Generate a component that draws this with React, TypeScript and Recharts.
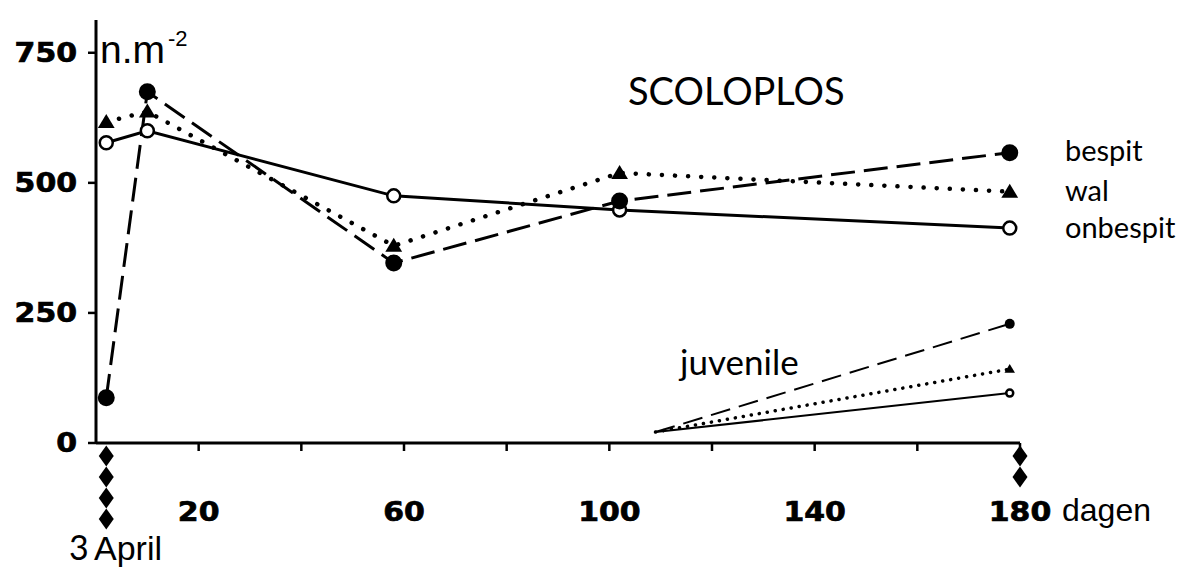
import React from 'react';
import { LineChart, Line, XAxis, YAxis, ReferenceDot } from 'recharts';

// sampling days and densities (n per m2)
const days = [2, 10, 58, 102, 178];
const bespit = [87, 675, 346, 465, 558];
const wal = [617, 637, 379, 519, 483];
const onbespit = [577, 600, 475, 448, 413];

// juvenile counts
const juvDays = [109, 178];
const juvBespit = [21, 229];
const juvWal = [21, 142];
const juvOnbespit = [21, 96];

const xTicks = [20, 40, 60, 80, 100, 120, 140, 160, 180];
const xLabels = [20, 60, 100, 140, 180];
const yTicks = [0, 250, 500, 750];

// days marked with diamonds under the axis
const markDays = [2, 180];
const markCounts = [4, 2];

const rows = (xs: number[], ys: number[]) => xs.map((d, i) => ({ day: d, n: ys[i] }));

const filledDot = (r: number, skipFirst = false) => (p: any) =>
  skipFirst && p.index === 0 ? <g key={p.index} /> : <circle key={p.index} cx={p.cx} cy={p.cy} r={r} fill="#000" />;

const openDot = (r: number, skipFirst = false) => (p: any) =>
  skipFirst && p.index === 0 ? (
    <g key={p.index} />
  ) : (
    <circle key={p.index} cx={p.cx} cy={p.cy} r={r} fill="#fff" stroke="#000" strokeWidth={2.5} />
  );

const triDot = (s: number, skipFirst = false) => (p: any) =>
  skipFirst && p.index === 0 ? (
    <g key={p.index} />
  ) : (
    <path
      key={p.index}
      d={`M${p.cx},${p.cy - s} L${p.cx + s * 1.05},${p.cy + s * 0.75} L${p.cx - s * 1.05},${p.cy + s * 0.75} Z`}
      fill="#000"
    />
  );

const diamonds = (count: number) => (p: any) => (
  <g>
    {Array.from({ length: count }, (_, i) => {
      const y = p.cy + 13 + i * 21;
      return <path key={i} d={`M${p.cx},${y - 10.5} L${p.cx + 7.5},${y} L${p.cx},${y + 10.5} L${p.cx - 7.5},${y} Z`} fill="#000" />;
    })}
  </g>
);

const numStyle = { fontFamily: 'DejaVu Sans', fontSize: 26, fontWeight: 700, fill: '#000', stroke: '#000', strokeWidth: 0.7 };

// wide bold digits, like the original lettering
const YTick = ({ x, y, payload }: any) => (
  <text x={x} y={y} dy="0.36em" textAnchor="end" transform={`translate(${x},0) scale(1.15,1) translate(${-x},0)`} {...numStyle}>
    {payload.value}
  </text>
);

const XTick = ({ x, y, payload }: any) =>
  xLabels.includes(payload.value) ? (
    <text x={x} y={y} dy={18.5} textAnchor="middle" transform={`translate(${x},0) scale(1.15,1) translate(${-x},0)`} {...numStyle}>
      {payload.value}
    </text>
  ) : (
    <g />
  );

const txtFont = 'Lato';

export default function App() {
  return (
    <div style={{ position: 'absolute', left: 0, top: 0, width: 1189, height: 570, background: '#fff' }}>
      <LineChart width={1189} height={570} margin={{ top: 20, right: 169, bottom: 97, left: 16 }}>
        <XAxis
          type="number"
          dataKey="day"
          domain={[0, 180]}
          ticks={xTicks}
          height={30}
          axisLine={{ stroke: '#000', strokeWidth: 3 }}
          tickLine={{ stroke: '#000', strokeWidth: 2.5 }}
          tickSize={8}
          tickMargin={52}
          tick={<XTick />}
          allowDuplicatedCategory={false}
        />
        <YAxis
          type="number"
          domain={[0, 813]}
          ticks={yTicks}
          width={80}
          axisLine={{ stroke: '#000', strokeWidth: 3 }}
          tickLine={{ stroke: '#000', strokeWidth: 2.5 }}
          tickSize={8}
          tickMargin={11}
          tick={<YTick />}
        />
        <Line data={rows(days, onbespit)} dataKey="n" stroke="#000" strokeWidth={3} dot={openDot(6.5)} isAnimationActive={false} />
        <Line
          data={rows(days, wal)}
          dataKey="n"
          stroke="#000"
          strokeWidth={4.5}
          strokeDasharray="0.1 13"
          strokeLinecap="round"
          dot={triDot(8)}
          isAnimationActive={false}
        />
        <Line
          data={rows(days, bespit)}
          dataKey="n"
          stroke="#000"
          strokeWidth={3}
          strokeDasharray="24 9"
          dot={filledDot(8.5)}
          isAnimationActive={false}
        />
        <Line data={rows(juvDays, juvOnbespit)} dataKey="n" stroke="#000" strokeWidth={2} dot={openDot(3.5, true)} isAnimationActive={false} />
        <Line
          data={rows(juvDays, juvWal)}
          dataKey="n"
          stroke="#000"
          strokeWidth={3.5}
          strokeDasharray="0.1 8"
          strokeLinecap="round"
          dot={triDot(5, true)}
          isAnimationActive={false}
        />
        <Line
          data={rows(juvDays, juvBespit)}
          dataKey="n"
          stroke="#000"
          strokeWidth={2}
          strokeDasharray="20 9"
          dot={filledDot(5, true)}
          isAnimationActive={false}
        />
        {markDays.map((d, i) => (
          <ReferenceDot key={d} x={d} y={0} ifOverflow="visible" shape={diamonds(markCounts[i])} />
        ))}
      </LineChart>
      <svg width={1189} height={570} style={{ position: 'absolute', left: 0, top: 0, pointerEvents: 'none' }}>
        <text x={100} y={63} fontFamily="Liberation Sans" fontSize={39}>n.m</text>
        <text x={168} y={46} fontFamily="Liberation Sans" fontSize={22}>-2</text>
        <text x={628} y={105} fontFamily={txtFont} fontSize={38}>SCOLOPLOS</text>
        <text x={1065} y={161} fontFamily={txtFont} fontSize={29}>bespit</text>
        <text x={1065} y={201} fontFamily={txtFont} fontSize={29}>wal</text>
        <text x={1065} y={238} fontFamily={txtFont} fontSize={29}>onbespit</text>
        <text x={680} y={375} fontFamily={txtFont} fontSize={35}>juvenile</text>
        <text x={1062} y={521} fontFamily="Liberation Sans" fontSize={32}>dagen</text>
        <text x={69} y={560} fontFamily={txtFont} fontSize={34}>3</text>
        <text x={94} y={560} fontFamily="Liberation Sans" fontSize={34}>April</text>
      </svg>
    </div>
  );
}
